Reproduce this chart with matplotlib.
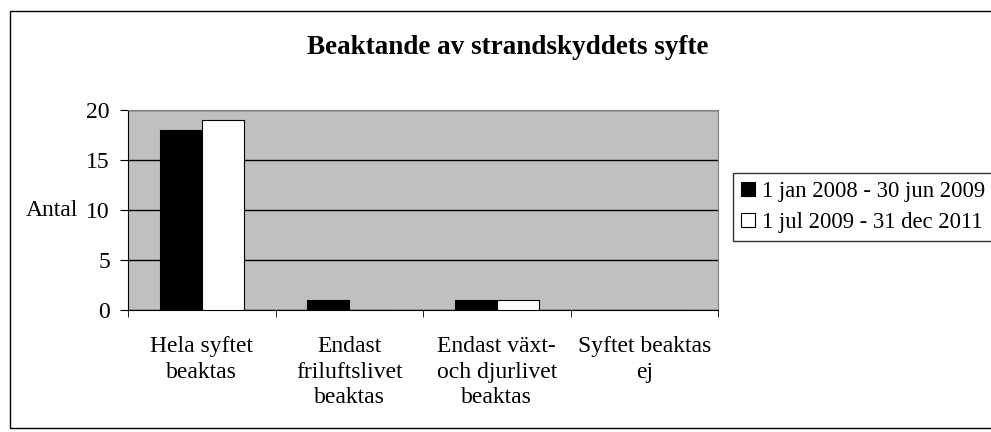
import matplotlib.pyplot as plt
import numpy as np
from matplotlib.patches import Rectangle

plt.rcParams['font.family'] = ['Liberation Serif', 'DejaVu Serif']

categories = ['Hela syftet\nbeaktas', 'Endast\nfriluftslivet\nbeaktas',
              'Endast växt-\noch djurlivet\nbeaktas', 'Syftet beaktas\nej']
period1 = [18, 1, 1, 0]
period2 = [19, 0, 1, 0]
labels = ['1 jan 2008 - 30 jun 2009', '1 jul 2009 - 31 dec 2011']

fs = 17

fig = plt.figure(figsize=(9.91, 4.32), dpi=100)
ax = fig.add_axes([128 / 991, 1 - 310 / 432, 590 / 991, 200 / 432])

x = np.arange(len(categories))
w = 0.285
ax.bar(x - w / 2, period1, w, color='black', edgecolor='black', lw=0.8,
       label=labels[0], zorder=3)
ax.bar(x + w / 2, period2, w, color='white', edgecolor='black', lw=0.8,
       label=labels[1], zorder=3)

ax.set_facecolor('#c0c0c0')
ax.set_xlim(-0.5, 3.5)
ax.set_ylim(0, 20)
ax.set_yticks([0, 5, 10, 15, 20])
ax.yaxis.grid(True, color='black', lw=1)
ax.set_axisbelow(True)
for s in ['top', 'right']:
    ax.spines[s].set_color('#808080')
for s in ['left', 'bottom']:
    ax.spines[s].set_color('black')

ax.set_xticks(x)
ax.set_xticklabels(categories, fontsize=fs, linespacing=1.28)
ax.set_xticks(np.arange(-0.5, 4, 1), minor=True)
ax.tick_params(axis='x', which='major', length=0, pad=19)
ax.tick_params(axis='x', which='minor', length=5, direction='out')
ax.tick_params(axis='y', length=6, direction='out', labelsize=fs, pad=7)

fig.text(78 / 991, 1 - 211 / 432, 'Antal', fontsize=fs, ha='right', va='center')

fig.text(0.512, 1 - 48 / 432, 'Beaktande av strandskyddets syfte',
         fontsize=19.5, fontweight='bold', ha='center', va='center')

leg = fig.legend(loc='upper left', bbox_to_anchor=(733 / 991, 1 - 173 / 432),
                 fontsize=16.3, frameon=True, fancybox=False, edgecolor='black',
                 handlelength=0.6, handleheight=0.6, handletextpad=0.35,
                 borderpad=0.35, labelspacing=0.45, borderaxespad=0)
leg.get_frame().set_linewidth(1)

fig.patches.append(Rectangle((10 / 991, 1 - 428 / 432), 1.2, 417 / 432,
                             transform=fig.transFigure, fill=False,
                             edgecolor='black', lw=1, clip_on=False))

fig.savefig('out.png', dpi=100)
